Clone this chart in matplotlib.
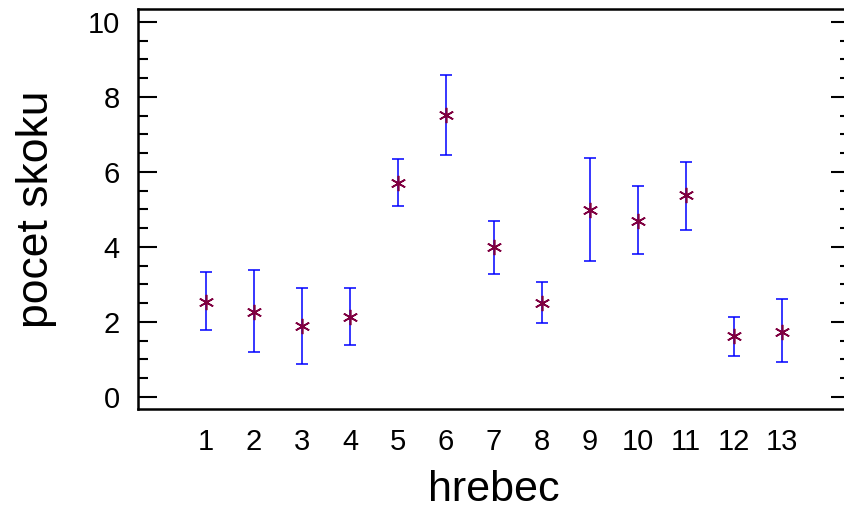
import matplotlib
matplotlib.use("Agg")
import matplotlib.pyplot as plt
from matplotlib.ticker import MultipleLocator

# hrebec (stallion) index, mean jump count and interval bounds
hrebec = [1, 2, 3, 4, 5, 6, 7, 8, 9, 10, 11, 12, 13]
mean = [2.52, 2.27, 1.89, 2.14, 5.69, 7.51, 3.99, 2.50, 4.98, 4.70, 5.38, 1.63, 1.74]
upper = [3.32, 3.38, 2.91, 2.91, 6.34, 8.58, 4.70, 3.06, 6.37, 5.63, 6.26, 2.13, 2.60]
lower = [1.79, 1.21, 0.89, 1.39, 5.10, 6.45, 3.28, 1.96, 3.63, 3.81, 4.45, 1.10, 0.92]
yticks = [0, 2, 4, 6, 8, 10]

plt.rcParams["font.family"] = ["Liberation Sans", "DejaVu Sans"]

W, H = 845, 515
fig = plt.figure(figsize=(W / 100, H / 100), dpi=100)
left, right, bottom, top = 138, 850, 409, 9
ax = fig.add_axes([left / W, (H - bottom) / H, (right - left) / W, (bottom - top) / H])

err_lo = [m - l for m, l in zip(mean, lower)]
err_hi = [u - m for m, u in zip(mean, upper)]
ax.errorbar(hrebec, mean, yerr=[err_lo, err_hi], fmt="none", ecolor="#0000ff",
            elinewidth=1.1, capsize=4.5, capthick=1.1, zorder=2)
ax.plot(hrebec, mean, linestyle="none", marker=(6, 2, 0), markersize=11,
        markeredgewidth=1.2, color="#800040", markeredgecolor="#800040", zorder=3)

ax.set_xlim(-0.42, 14.42)
ax.set_ylim(-0.32, 10.34)
ax.set_xticks(hrebec)
ax.set_yticks(yticks)
ax.yaxis.set_minor_locator(MultipleLocator(0.5))

ax.tick_params(axis="x", which="both", length=0, labelsize=21, pad=14)
ax.tick_params(axis="y", which="major", direction="in", length=14, width=1.5,
               labelsize=21, pad=13, right=True)
ax.tick_params(axis="y", which="minor", direction="in", length=7, width=1.5, right=True)

for s in ax.spines.values():
    s.set_linewidth(1.8)

ax.set_xlabel("hrebec", fontsize=31, labelpad=10)
ax.set_ylabel("pocet skoku", fontsize=32, labelpad=22)

fig.savefig("out.png", dpi=100)
